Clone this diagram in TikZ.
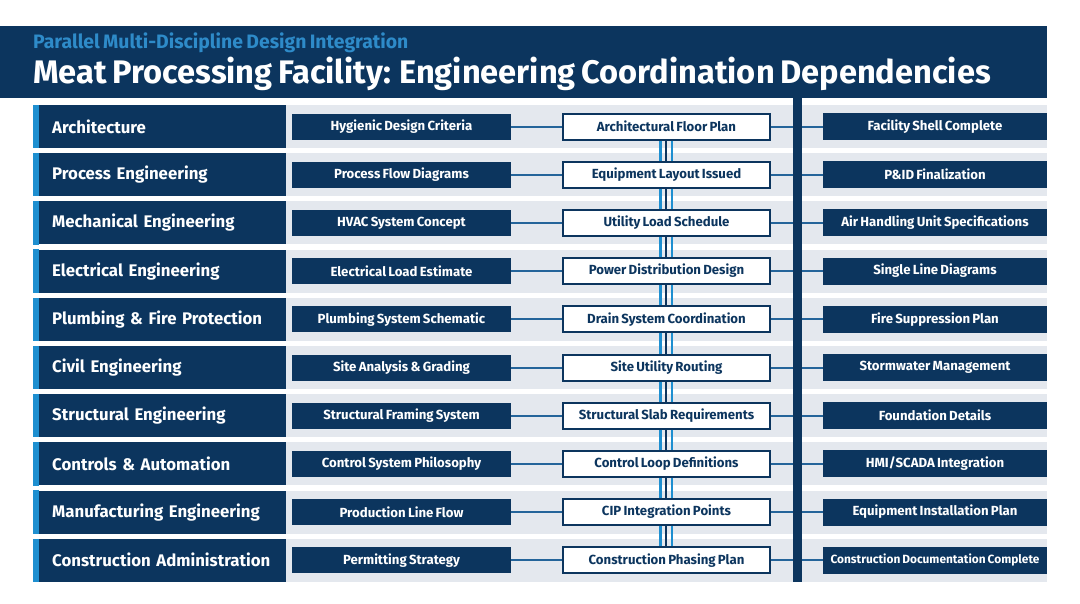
\documentclass[tikz,border=0pt]{standalone}
\usepackage{fontspec}
\setmainfont{Fira Sans}[WordSpace=0.72]
\usepackage{xcolor}
\usepackage{tikz}

\definecolor{navy}{HTML}{0C355E}
\definecolor{accent}{HTML}{1E8FD0}
\definecolor{subblue}{HTML}{2E8BC9}
\definecolor{band}{HTML}{E4E8EE}
\definecolor{linkblue}{HTML}{24649A}

\begin{document}
\begin{tikzpicture}[
	x = 1pt, y = -1pt,
	subtitle/.style = {anchor=base west, inner sep=0, text=subblue,
		font=\bfseries\fontsize{19.4}{22}\selectfont},
	title/.style    = {anchor=base west, inner sep=0, text=white,
		font=\bfseries\fontsize{32.6}{38}\selectfont},
	disc/.style     = {anchor=west, fill=navy, text=white, align=left,
		minimum width=253pt, minimum height=43pt, text width=253pt,
		inner xsep=0pt, inner ysep=0pt,
		execute at begin node=\hspace*{19pt},
		font=\bfseries\fontsize{16.8}{20}\selectfont},
	inbox/.style    = {fill=navy, text=white, inner sep=0,
		minimum width=219pt, minimum height=26pt,
		font=\bfseries\fontsize{13.2}{16}\selectfont},
	midbox/.style   = {fill=white, draw=navy, line width=2pt, text=navy,
		inner sep=0, minimum width=207pt, minimum height=26pt,
		font=\bfseries\fontsize{13.2}{16}\selectfont},
	outbox/.style   = {fill=navy, text=white, inner sep=0,
		minimum width=224pt, minimum height=27pt,
		font=\bfseries\fontsize{13.2}{16}\selectfont},
	link/.style     = {draw=linkblue, line width=2pt},
	rail/.style     = {draw=accent, line width=2.2pt},
	core/.style     = {draw=navy, line width=1.3pt}
]
	\useasboundingbox (0,0) rectangle (1080,603);

	% header
	\fill[navy] (0,26) rectangle (1047,98);
	\node[subtitle] (sub) at (33,48) {Parallel Multi-Discipline Design Integration};
	\node[title] (head) at (33,83) {Meat Processing Facility: Engineering Coordination Dependencies};

	% one row per discipline
	\foreach \disc/\inp/\mid/\out [count=\n] in {
		{Architecture}/{Hygienic Design Criteria}/{Architectural Floor Plan}/{Facility Shell Complete},
		{Process Engineering}/{Process Flow Diagrams}/{Equipment Layout Issued}/{P\&ID Finalization},
		{Mechanical Engineering}/{HVAC System Concept}/{Utility Load Schedule}/{Air Handling Unit Specifications},
		{Electrical Engineering}/{Electrical Load Estimate}/{Power Distribution Design}/{Single Line Diagrams},
		{Plumbing \& Fire Protection}/{Plumbing System Schematic}/{Drain System Coordination}/{Fire Suppression Plan},
		{Civil Engineering}/{Site Analysis \& Grading}/{Site Utility Routing}/{Stormwater Management},
		{Structural Engineering}/{Structural Framing System}/{Structural Slab Requirements}/{Foundation Details},
		{Controls \& Automation}/{Control System Philosophy}/{Control Loop Definitions}/{HMI/SCADA Integration},
		{Manufacturing Engineering}/{Production Line Flow}/{CIP Integration Points}/{Equipment Installation Plan},
		{Construction Administration}/{Permitting Strategy}/{Construction Phasing Plan}/{\fontsize{11.9}{14}\selectfont Construction Documentation Complete}
	} {
		\pgfmathsetmacro\yc{126.5+48.2*(\n-1)}
		\fill[band] (33,{\yc-21.5}) rectangle (1047,{\yc+21.5});
		\node[disc] (disc\n) at (33,\yc) {\disc};
		\fill[accent] (disc\n.north west) rectangle ([xshift=6pt]disc\n.south west);
		\node[inbox] (in\n) at (401.5,\yc) {\inp};
		\node[midbox] (mid\n) at (666.5,\yc) {\mid};
		\node[outbox] (out\n) at (935,\yc) {\out};
		\draw[link] (in\n) -- (mid\n) -- (out\n);
	}

	% milestone spine
	\fill[navy] (793,98) rectangle (802,582);

	% hand-offs down the middle column
	\foreach \n [evaluate=\n as \m using int(\n+1)] in {1,...,9} {
		\draw[rail] ([xshift=-6pt]mid\n.south) -- ([xshift=-6pt]mid\m.north);
		\draw[core] ([xshift=-0.5pt]mid\n.south) -- ([xshift=-0.5pt]mid\m.north);
		\draw[rail] ([xshift=5.5pt]mid\n.south) -- ([xshift=5.5pt]mid\m.north);
	}
\end{tikzpicture}
\end{document}
